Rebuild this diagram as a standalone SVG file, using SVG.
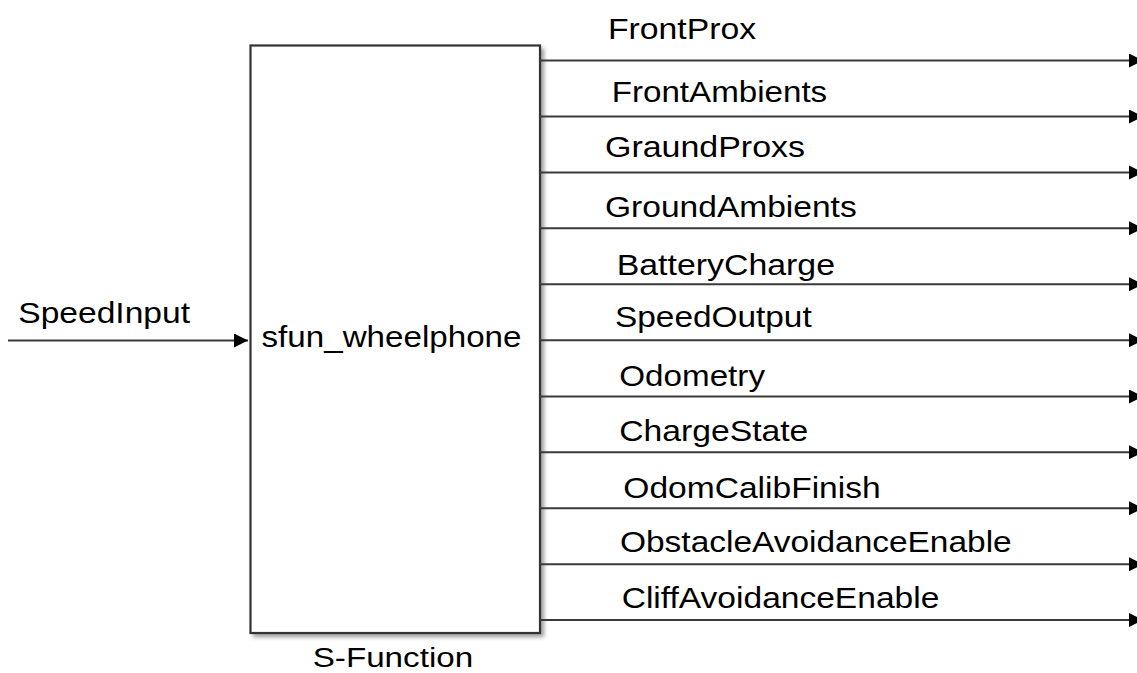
<svg xmlns="http://www.w3.org/2000/svg" width="1137" height="673" viewBox="0 0 1137 673">
<style>
.lbl{font-family:"Liberation Sans",Arial,sans-serif;font-size:30px;fill:#000}
.wire{stroke:#3a3a3a;stroke-width:2;fill:none}
</style>
<defs>
<marker id="arr" markerUnits="userSpaceOnUse" markerWidth="15" markerHeight="15" refX="14" refY="7" orient="auto">
<path d="M0,0 L14,7 L0,14 z" fill="#000"/>
</marker>
<filter id="sh" x="-10%" y="-10%" width="130%" height="130%">
<feGaussianBlur stdDeviation="2"/>
</filter>
</defs>
<rect width="1137" height="673" fill="#fff"/>
<g id="sfun_block">
<rect x="253" y="48" width="291" height="589" fill="#9a9a9a" filter="url(#sh)"/>
<rect x="250.5" y="45.5" width="289.5" height="587.5" fill="#fff" stroke="#333" stroke-width="2.2"/>
<text class="lbl" x="261.5" y="347" textLength="260" lengthAdjust="spacingAndGlyphs">sfun_wheelphone</text>
<text class="lbl" x="312.7" y="667" style="font-size:27px" textLength="160.5" lengthAdjust="spacingAndGlyphs">S-Function</text>
</g>
<g id="connectors">
<line class="wire" x1="8" y1="340.5" x2="248" y2="340.5" stroke="#000" marker-end="url(#arr)"/>
<line class="wire" x1="540" y1="60.5" x2="1143" y2="60.5" marker-end="url(#arr)"/>
<line class="wire" x1="540" y1="116.5" x2="1143" y2="116.5" marker-end="url(#arr)"/>
<line class="wire" x1="540" y1="172.4" x2="1143" y2="172.4" marker-end="url(#arr)"/>
<line class="wire" x1="540" y1="228.3" x2="1143" y2="228.3" marker-end="url(#arr)"/>
<line class="wire" x1="540" y1="284.3" x2="1143" y2="284.3" marker-end="url(#arr)"/>
<line class="wire" x1="540" y1="340.2" x2="1143" y2="340.2" marker-end="url(#arr)"/>
<line class="wire" x1="540" y1="396.5" x2="1143" y2="396.5" marker-end="url(#arr)"/>
<line class="wire" x1="540" y1="452.3" x2="1143" y2="452.3" marker-end="url(#arr)"/>
<line class="wire" x1="540" y1="508.2" x2="1143" y2="508.2" marker-end="url(#arr)"/>
<line class="wire" x1="540" y1="564.2" x2="1143" y2="564.2" marker-end="url(#arr)"/>
<line class="wire" x1="540" y1="620" x2="1143" y2="620" marker-end="url(#arr)"/>
</g>
<g id="labels">
<text class="lbl" x="18.3" y="323.3" textLength="171.7" lengthAdjust="spacingAndGlyphs">SpeedInput</text>
<text class="lbl" x="608" y="39" textLength="148" lengthAdjust="spacingAndGlyphs">FrontProx</text>
<text class="lbl" x="611.7" y="101.5" textLength="215.5" lengthAdjust="spacingAndGlyphs">FrontAmbients</text>
<text class="lbl" x="605" y="157.3" textLength="200" lengthAdjust="spacingAndGlyphs">GraundProxs</text>
<text class="lbl" x="605" y="217.3" textLength="251.7" lengthAdjust="spacingAndGlyphs">GroundAmbients</text>
<text class="lbl" x="616.7" y="275" textLength="218.3" lengthAdjust="spacingAndGlyphs">BatteryCharge</text>
<text class="lbl" x="615" y="327.3" textLength="196.7" lengthAdjust="spacingAndGlyphs">SpeedOutput</text>
<text class="lbl" x="619.3" y="386" textLength="145.7" lengthAdjust="spacingAndGlyphs">Odometry</text>
<text class="lbl" x="619.3" y="440.7" textLength="189" lengthAdjust="spacingAndGlyphs">ChargeState</text>
<text class="lbl" x="623.3" y="498.3" textLength="257.4" lengthAdjust="spacingAndGlyphs">OdomCalibFinish</text>
<text class="lbl" x="620" y="551.7" textLength="391.7" lengthAdjust="spacingAndGlyphs">ObstacleAvoidanceEnable</text>
<text class="lbl" x="621.7" y="607.7" textLength="317.6" lengthAdjust="spacingAndGlyphs">CliffAvoidanceEnable</text>
</g>
</svg>
